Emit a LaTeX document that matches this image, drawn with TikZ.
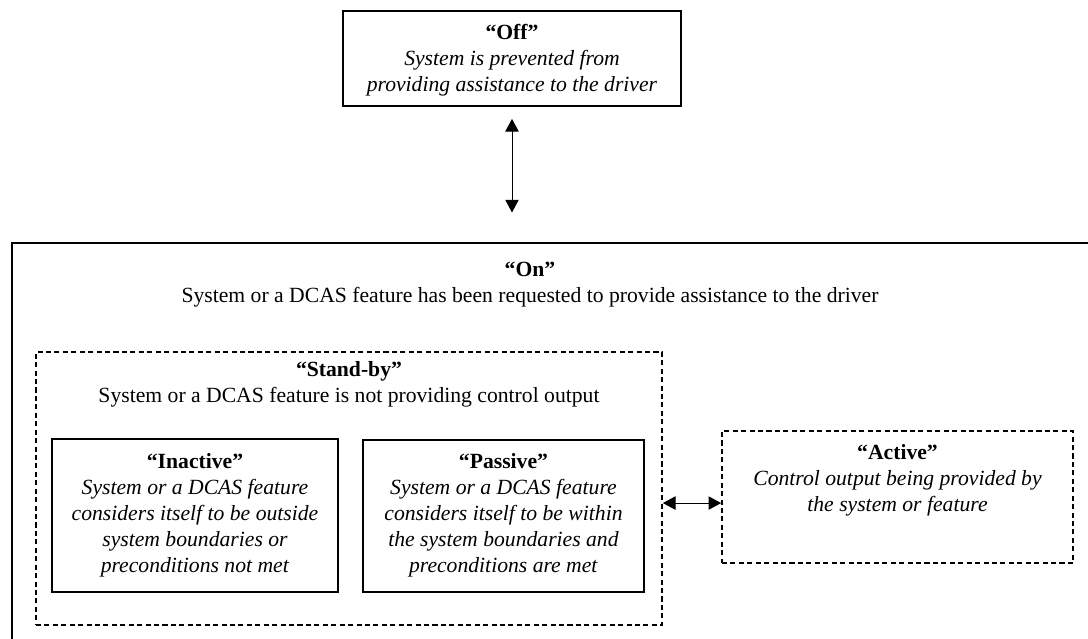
\documentclass[tikz,border=0pt]{standalone}
\usepackage{fontspec}
\setmainfont{Liberation Serif}
\usepackage{tikz}
\usetikzlibrary{arrows.meta}

\tikzset{
    solidbox/.style={draw, line width=1.3pt, inner sep=0pt},
    dashbox/.style={draw, line width=1.1pt, dash pattern=on 3.6pt off 2.4pt, inner sep=0pt},
    twoway/.style={{Triangle[width=9.5pt,length=9pt]}-{Triangle[width=9.5pt,length=9pt]}, line width=0.7pt},
    txt/.style={align=center, font=\fontsize{15.4}{18.5}\selectfont}
}

\begin{document}
\begin{tikzpicture}[x=0.025cm,y=-0.025cm]
    \useasboundingbox (0,0) rectangle (1088,639);
    \clip (0,0) rectangle (1088,639);
    \begin{scope}

    \node [solidbox, minimum width=8.45cm, minimum height=2.375cm] (off) at (512,58.5) {};
    \node [txt] (offtxt) at (512,60) {\textbf{“Off”}\\ \textit{System is prevented from}\\ \textit{providing assistance to the driver}};

    \node [solidbox, anchor=north west, minimum width=27.5cm, minimum height=10.5cm] (on) at (11,242) {};
    \node [txt] (ontxt) at (530,285) {\textbf{“On”}\\ System or a DCAS feature has been requested to provide assistance to the driver};

    \node [dashbox, minimum width=15.65cm, minimum height=6.825cm] (standby) at (349,488.5) {};
    \node [txt] (standbytxt) at (349,384) {\textbf{“Stand-by”}\\ System or a DCAS feature is not providing control output};

    \node [solidbox, minimum width=7.15cm, minimum height=3.825cm] (inactive) at (195,515.5) {};
    \node [txt] (inactivetxt) at (195,515) {\textbf{“Inactive”}\\ \textit{System or a DCAS feature}\\ \textit{considers itself to be outside}\\ \textit{system boundaries or}\\ \textit{preconditions not met}};

    \node [solidbox, minimum width=7.025cm, minimum height=3.8cm] (passive) at (503.5,516) {};
    \node [txt] (passivetxt) at (503.5,515) {\textbf{“Passive”}\\ \textit{System or a DCAS feature}\\ \textit{considers itself to be within}\\ \textit{the system boundaries and}\\ \textit{preconditions are met}};

    \node [dashbox, minimum width=8.775cm, minimum height=3.3cm] (active) at (897.5,497) {};
    \node [txt] (activetxt) at (897.5,480) {\textbf{“Active”}\\ \textit{Control output being provided by}\\ \textit{the system or feature}};

    \draw [twoway, shorten <=8.5pt, shorten >=21pt] (off.south) -- (off.south |- on.north);
    \draw [twoway] ([yshift=-4.3pt]standby.east |- active.west) -- ([yshift=-4.3pt]active.west);
    \end{scope}
\end{tikzpicture}
\end{document}
